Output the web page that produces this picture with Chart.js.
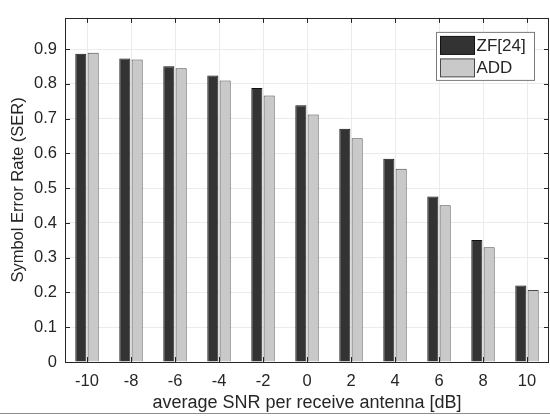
<!DOCTYPE html>
<html>
<head>
<meta charset="utf-8">
<script src="https://cdn.jsdelivr.net/npm/chart.js@4"></script>
<style>
    html, body { margin: 0; padding: 0; background: #fff; }
    #wrap { width: 550px; height: 416px; }
</style>
</head>
<body>
<div id="wrap"><canvas id="serChart" width="550" height="416"></canvas></div>
<script>
// SNR values (dB)
const snrLabels = ['-10', '-8', '-6', '-4', '-2', '0', '2', '4', '6', '8', '10'];
const zfValues  = [0.887, 0.873, 0.851, 0.824, 0.788, 0.739, 0.671, 0.585, 0.476, 0.351, 0.220];
const addValues = [0.890, 0.870, 0.845, 0.810, 0.767, 0.712, 0.644, 0.556, 0.451, 0.330, 0.207];
const yTicks    = [0, 0.1, 0.2, 0.3, 0.4, 0.5, 0.6, 0.7, 0.8, 0.9];

const FONT = '"Liberation Sans", Arial, Helvetica, sans-serif';
const TEXT_COLOR = '#262626';
const AXIS_COLOR = '#262626';

// box, inward ticks, legend and the bottom rule, matlab style
const matlabFrame = {
    id: 'matlabFrame',
    afterDatasetsDraw(chart) {
        const ctx = chart.ctx;
        const area = chart.chartArea;
        const xs = chart.scales.x;
        const ys = chart.scales.y;
        const tl = 5;

        ctx.save();
        ctx.strokeStyle = AXIS_COLOR;
        ctx.lineWidth = 1;
        ctx.beginPath();
        // ticks along x, bottom + top
        snrLabels.forEach((_, i) => {
            const px = Math.round(xs.getPixelForTick(i)) + 0.5;
            ctx.moveTo(px, area.bottom);
            ctx.lineTo(px, area.bottom - tl);
            ctx.moveTo(px, area.top);
            ctx.lineTo(px, area.top + tl);
        });
        // ticks along y, left + right
        yTicks.forEach(v => {
            const py = Math.round(ys.getPixelForValue(v)) + 0.5;
            ctx.moveTo(area.left, py);
            ctx.lineTo(area.left + tl, py);
            ctx.moveTo(area.right, py);
            ctx.lineTo(area.right - tl, py);
        });
        ctx.stroke();

        ctx.strokeRect(Math.round(area.left) + 0.5, Math.round(area.top) + 0.5,
            Math.round(area.right - area.left) - 1, Math.round(area.bottom - area.top));

        // legend box
        const bx = area.right - 112.5, by = area.top + 14.5, bw = 98, bh = 48;
        ctx.fillStyle = '#fff';
        ctx.fillRect(bx, by, bw, bh);
        ctx.strokeStyle = '#7a7a7a';
        ctx.strokeRect(bx, by, bw, bh);
        ctx.font = '17px ' + FONT;
        ctx.textBaseline = 'middle';
        chart.data.datasets.forEach((ds, i) => {
            const sy = by + 4 + i * 22.5;
            ctx.fillStyle = ds.backgroundColor;
            ctx.fillRect(bx + 4, sy, 34, 18);
            ctx.strokeStyle = ds.borderColor;
            ctx.strokeRect(bx + 4, sy, 34, 18);
            ctx.fillStyle = TEXT_COLOR;
            ctx.fillText(ds.label, bx + 40, sy + 9.5);
        });

        // grey rule under the figure
        ctx.strokeStyle = '#8c8c8c';
        ctx.beginPath();
        ctx.moveTo(0, 413.5);
        ctx.lineTo(chart.width, 413.5);
        ctx.stroke();
        ctx.restore();
    }
};

new Chart(document.getElementById('serChart'), {
    type: 'bar',
    data: {
        labels: snrLabels,
        datasets: [
            {
                label: 'ZF[24]',
                data: zfValues,
                backgroundColor: '#333333',
                borderColor: '#111111',
                borderWidth: 1,
                barPercentage: 0.9,
                categoryPercentage: 0.56
            },
            {
                label: 'ADD',
                data: addValues,
                backgroundColor: '#c9c9c9',
                borderColor: '#4a4a4a',
                borderWidth: 1,
                barPercentage: 0.9,
                categoryPercentage: 0.56
            }
        ]
    },
    options: {
        responsive: false,
        animation: false,
        layout: { padding: { left: 0, top: 7, right: 1, bottom: 0 } },
        plugins: {
            legend: { display: false },
            tooltip: { enabled: false }
        },
        scales: {
            x: {
                grid: { color: '#ebebeb', drawTicks: false, offset: false },
                border: { display: false },
                ticks: {
                    color: TEXT_COLOR,
                    font: { family: FONT, size: 16.5 },
                    padding: 10,
                    maxRotation: 0
                },
                title: {
                    display: true,
                    text: 'average SNR per receive antenna [dB]',
                    color: TEXT_COLOR,
                    font: { family: FONT, size: 18 },
                    padding: { top: 0, bottom: 2 }
                },
                afterFit(scale) { scale.height = 54; }
            },
            y: {
                min: 0,
                max: 0.99,
                grid: { color: '#ebebeb', drawTicks: false },
                border: { display: false },
                ticks: {
                    stepSize: 0.1,
                    includeBounds: false,
                    color: TEXT_COLOR,
                    font: { family: FONT, size: 16.5 },
                    padding: 8,
                    callback: v => String(+v.toFixed(1))
                },
                title: {
                    display: true,
                    text: 'Symbol Error Rate (SER)',
                    color: TEXT_COLOR,
                    font: { family: FONT, size: 16.5 },
                    padding: { top: 9, bottom: 0 }
                },
                afterFit(scale) { scale.width = 65; }
            }
        }
    },
    plugins: [matlabFrame]
});
</script>
</body>
</html>
